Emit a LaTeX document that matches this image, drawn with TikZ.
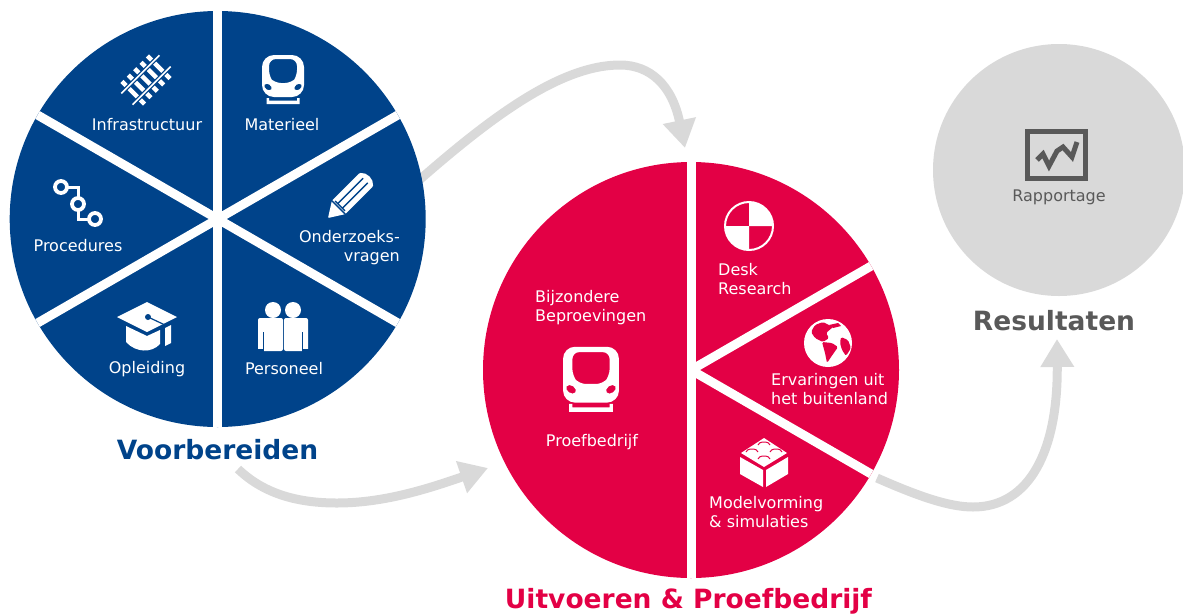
\documentclass[tikz,border=0pt]{standalone}
\usepackage{fontspec}
\setmainfont{DejaVu Sans}
\usetikzlibrary{arrows.meta}
\usetikzlibrary{backgrounds}
\definecolor{prepblue}{HTML}{00438A}
\definecolor{testred}{HTML}{E30045}
\definecolor{resgrey}{HTML}{D9D9D9}
\definecolor{darkgrey}{HTML}{595959}
\tikzset{
  wheel/.style={circle, inner sep=0pt, outer sep=0pt, minimum size=416pt},
  spoke/.style={white, line width=9pt},
  label/.style={inner sep=0pt, font=\fontsize{16}{19}\selectfont, text=white},
  title/.style={inner sep=0pt, font=\fontsize{26.5}{30}\selectfont\bfseries},
  flow/.style={resgrey, line width=9pt, -{Triangle[length=28pt,width=32pt]}},
  trainicon/.pic={
    \fill[white, even odd rule] [rounded corners=12pt] (-21,-25) rectangle (21,17)
      [rounded corners=7pt] (-14,-21) -- (14,-21) -- (14,-3) -- (9,3) -- (-9,3) -- (-14,-3) -- cycle
      (-15,7) ellipse [x radius=4, y radius=2.8, rotate=-35]
      (15,7) ellipse [x radius=4, y radius=2.8, rotate=35];
    \fill[white] (-16.5,18) -- (-14,18) -- (-14,20.5) -- (14,20.5) -- (14,18) -- (16.5,18) -- (16.5,24) -- (-16.5,24) -- cycle;
  }
}
\begin{document}
\begin{tikzpicture}[x=1pt, y=-1pt]
  \useasboundingbox (0,0) rectangle (1183,614);

  % the three circles
  \node[wheel, fill=prepblue] (prepwheel) at (217.7,219) {};
  \node[wheel, fill=testred] (testwheel) at (691,370) {};
  \node[circle, inner sep=0pt, minimum size=252pt, fill=resgrey] (reswheel) at (1059,170) {};

  \draw[spoke] (prepwheel.90) -- (prepwheel.270);
  \draw[spoke] (prepwheel.30) -- (prepwheel.210);
  \draw[spoke] (prepwheel.150) -- (prepwheel.330);
  \draw[spoke] (testwheel.30) -- (testwheel.center);
  \draw[spoke] (testwheel.330) -- (testwheel.center);
  \draw[spoke] (testwheel.90) -- (testwheel.270);

  % labels
  \node[label] (infra) at (147,125) {Infrastructuur};
  \node[label] (materieel) at (282,125) {Materieel};
  \node[label] (procedures) at (78,246) {Procedures};
  \node[label, align=right, anchor=east] (vragen) at (400,247.5) {Onderzoeks-\\vragen};
  \node[label] (opleiding) at (147,369) {Opleiding};
  \node[label] (personeel) at (284,369) {Personeel};
  \node[label, align=left, anchor=west] (bijzonder) at (535,307.5) {Bijzondere\\Beproevingen};
  \node[label] (proefbedrijf) at (592,442) {Proefbedrijf};
  \node[label, align=left, anchor=west] (desk) at (718,279.5) {Desk\\Research};
  \node[label, align=left, anchor=west] (ervaring) at (771,389.5) {Ervaringen uit\\het buitenland};
  \node[label, align=left, anchor=west] (model) at (709,512.5) {Modelvorming\\\& simulaties};
  \node[label, text=darkgrey] (rapportage) at (1059,197) {Rapportage};

  \node[title, text=prepblue] (voorbereiden) at (217.5,450) {Voorbereiden};
  \node[title, text=testred] (uitvoeren) at (688.5,601) {Uitvoeren \& Proefbedrijf};
  \node[title, text=darkgrey] (resultaten) at (1054,320.5) {Resultaten};

  % connectors behind the circles
  \coordinate (prepout) at (417,182);
  \coordinate (testin) at (685,148);
  \coordinate (prepdown) at (238,469);
  \coordinate (testside) at (488,468);
  \coordinate (testout) at (877,478);
  \coordinate (resin) at (1057,339);
  \begin{scope}[on background layer]
    \draw[flow] (prepout) .. controls (490,118) and (560,65) .. (620,65) .. controls (650,65) and (672,85) .. (testin);
    \draw[flow] (prepdown) .. controls (265,495) and (300,503) .. (337,503) .. controls (385,503) and (430,488) .. (testside);
    \draw[flow] (testout) .. controls (920,497) and (950,507) .. (973,507) .. controls (1030,507) and (1058,450) .. (resin);
  \end{scope}

  % icons
  \pic at (283,80) {trainicon};
  \pic[scale=1.33] at (591,380) {trainicon};

  % rails
  \begin{scope}[shift={(146,80)}, rotate=45]
    \foreach \s in {-18,-9,0,9,18}
      \fill[white] (\s-2.2,-16) rectangle (\s+2.2,16);
    \foreach \r in {-8,8} {
      \draw[prepblue, line width=4pt] (-27,\r) -- (27,\r);
      \draw[white, line width=1.6pt] (-27,\r) -- (27,\r);
    }
  \end{scope}

  % procedure steps
  \draw[white, line width=3pt] (67,187) -- (78,187) -- (78,198);
  \draw[white, line width=3pt] (78,211) -- (78,219) -- (89,219);
  \foreach \p in {(61,187),(78,204),(95,219)}
    \draw[white, line width=3.8pt] \p circle (6);

  % pencil
  \begin{scope}[shift={(328,218)}, rotate=45]
    \fill[white, rounded corners=1pt] (0,0) -- (15,-9.5) -- (54,-9.5) .. controls (60,-5) and (60,5) .. (54,9.5) -- (15,9.5) -- cycle;
    \draw[prepblue, line width=1.4pt] (17,-3.2) -- (53,-3.2);
    \draw[prepblue, line width=1.4pt] (17,3.2) -- (53,3.2);
    \draw[prepblue, line width=1.4pt] (15,-9.5) -- (15,9.5);
    \draw[prepblue, line width=1.4pt] (17,-7) -- (17,7);
  \end{scope}

  % cap
  \fill[white] (117,317) -- (147,302) -- (177,317) -- (147,332) -- cycle;
  \fill[white] (126,326) -- (147,336) -- (160,330) -- (160,344) .. controls (152,353) and (136,353) .. (126,342) -- cycle;
  \fill[white] (165,328) -- (171,325) -- (171,343) -- (165,346) -- cycle;
  \fill[prepblue] (148,317) circle (3);
  \draw[prepblue, line width=1.2pt] (148,317) -- (165,325);

  % people
  \fill[white] (273,310) circle (8);
  \fill[white] (293,310) circle (8);
  \fill[white, rounded corners=2pt] (258,318) rectangle (283,351);
  \fill[white, rounded corners=2pt] (284,318) rectangle (308,351);
  \fill[prepblue] (257,349) rectangle (264,352);
  \fill[prepblue] (302,349) rectangle (309,352);
  \draw[prepblue, line width=1pt] (263.5,332) -- (263.5,351);
  \draw[prepblue, line width=1pt] (302.5,332) -- (302.5,351);

  % test target
  \draw[white, line width=2pt] (749,226) circle (24);
  \fill[white] (749,226) -- (749,202) arc[start angle=270, end angle=360, radius=24] -- cycle;
  \fill[white] (749,226) -- (749,250) arc[start angle=90, end angle=180, radius=24] -- cycle;

  % globe
  \fill[white] (828,343) circle (24);
  \fill[testred, rounded corners=1.5pt] (815,325) -- (823,322) -- (833,327) -- (826,333) -- (829,338) -- (823,342) -- (815,338) -- (811,332) -- cycle;
  \fill[testred, rounded corners=1.5pt] (822,342) -- (832,343) -- (838,347) -- (831,357) -- (827,363) -- (825,353) -- cycle;
  \fill[testred, rounded corners=1.5pt] (841,337) -- (848,340) -- (851,348) -- (846,356) -- (842,350) -- (840,343) -- cycle;
  \fill[testred] (829,325) -- (838,323) -- (841,326) -- (833,328) -- cycle;

  % brick
  \fill[white] (764,438) -- (787,453) -- (764,467) -- (741,453) -- cycle;
  \fill[white] (740,457) -- (763,470) -- (763,487) -- (740,474) -- cycle;
  \fill[white] (766,470) -- (788,457) -- (788,474) -- (766,487) -- cycle;
  \foreach \p in {(764,445),(752,452),(776,452),(764,459)}
    \draw[testred, line width=1pt] \p ++(-6,0) arc[start angle=180, end angle=360, x radius=6, y radius=3];

  % report
  \draw[darkgrey, line width=5pt] (1027.5,131.5) rectangle (1085.5,178.5);
  \draw[darkgrey, line width=5pt] (1037,160) -- (1043,154) -- (1049,166) -- (1057,151) -- (1063,147) -- (1072,157) -- (1077,142);
\end{tikzpicture}
\end{document}
